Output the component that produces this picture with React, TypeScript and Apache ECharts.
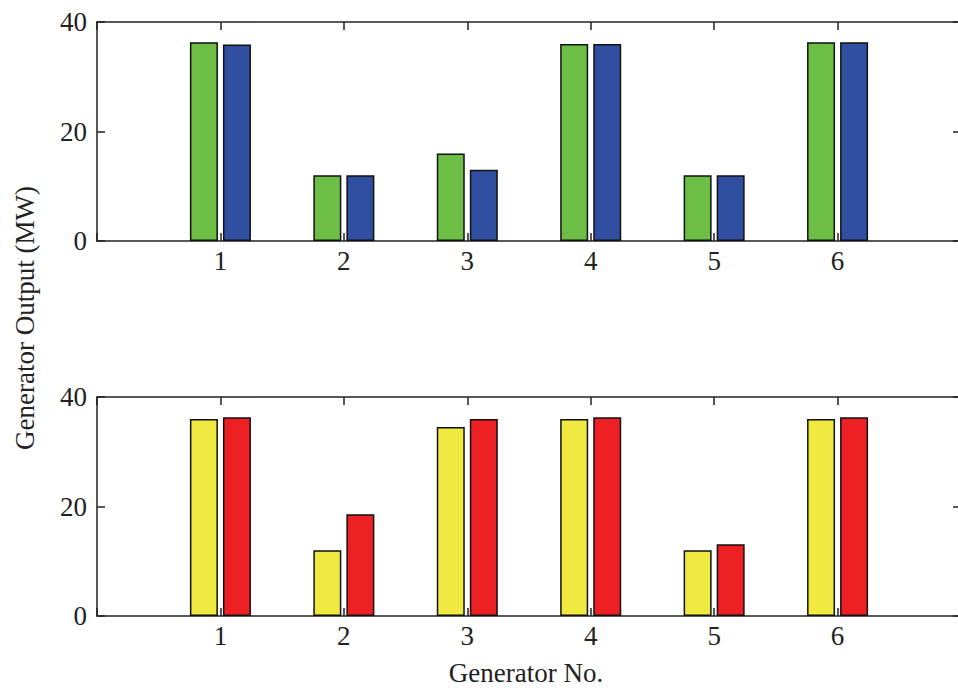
import React, { useEffect, useRef } from "react";
import * as echarts from "echarts";

const generators = [1, 2, 3, 4, 5, 6];
const topGreen = [36.3, 12, 16, 36, 12, 36.3];
const topBlue = [35.9, 12, 13, 36, 12, 36.3];
const bottomYellow = [36, 12, 34.5, 36, 12, 36];
const bottomRed = [36.3, 18.6, 36, 36.3, 13.1, 36.3];
const yTicks = [0, 20, 40];

const FONT = "'Liberation Serif', 'DejaVu Serif', serif";
const FS = 27;

export default function App() {
  const ref = useRef<HTMLDivElement>(null);
  useEffect(() => {
    if (!ref.current) return;
    const chart = echarts.init(ref.current, undefined, { renderer: "svg" });
    const lineStyle = { color: "#222", width: 1.5 };
    const xAxisBase = (gridIndex: number, position: "top" | "bottom", showLabel: boolean) => ({
      type: "value" as const,
      gridIndex,
      position,
      min: 0,
      max: 7,
      interval: 1,
      axisLine: { show: true, onZero: false, lineStyle },
      axisTick: { show: true, inside: true, length: 8, lineStyle },
      splitLine: { show: false },
      axisLabel: {
        show: showLabel,
        margin: 6,
        fontFamily: FONT,
        fontSize: FS,
        color: "#222",
        formatter: (v: number) => (generators.indexOf(v) >= 0 ? String(v) : ""),
      },
    });
    const yAxisBase = (gridIndex: number, position: "left" | "right", showLabel: boolean) => ({
      type: "value" as const,
      gridIndex,
      position,
      min: yTicks[0],
      max: yTicks[yTicks.length - 1],
      interval: 20,
      axisLine: { show: true, onZero: false, lineStyle },
      axisTick: { show: true, inside: true, length: 8, lineStyle },
      splitLine: { show: false },
      axisLabel: {
        show: showLabel,
        margin: 10,
        fontFamily: FONT,
        fontSize: FS,
        color: "#222",
      },
    });
    const barSeries = (name: string, values: number[], color: string, axisIdx: number) => ({
      type: "bar" as const,
      name,
      xAxisIndex: axisIdx,
      yAxisIndex: axisIdx,
      data: generators.map((g, i) => [g, values[i]]),
      barWidth: 28,
      barGap: "18%",
      itemStyle: { color, borderColor: "#111", borderWidth: 1.5 },
    });
    chart.setOption({
      animation: false,
      backgroundColor: "#fff",
      grid: [
        { left: 97, top: 22, width: 864, height: 219, outerBoundsMode: "none", containLabel: false },
        { left: 97, top: 397, width: 864, height: 219, outerBoundsMode: "none", containLabel: false },
      ],
      xAxis: [
        xAxisBase(0, "bottom", true),
        xAxisBase(1, "bottom", true),
        xAxisBase(0, "top", false),
        xAxisBase(1, "top", false),
      ],
      yAxis: [
        yAxisBase(0, "left", true),
        yAxisBase(1, "left", true),
        yAxisBase(0, "right", false),
        yAxisBase(1, "right", false),
      ],
      series: [
        barSeries("Top A", topGreen, "#6cbe45", 0),
        barSeries("Top B", topBlue, "#314fa1", 0),
        barSeries("Bottom A", bottomYellow, "#f0e940", 1),
        barSeries("Bottom B", bottomRed, "#ed2024", 1),
      ],
      graphic: [
        {
          type: "text",
          x: 25,
          y: 318,
          rotation: Math.PI / 2,
          style: {
            text: "Generator Output (MW)",
            font: `${FS}px ${FONT}`,
            fill: "#222",
            align: "center",
            verticalAlign: "middle",
          },
        },
        {
          type: "text",
          x: 526,
          y: 673,
          style: {
            text: "Generator No.",
            font: `${FS}px ${FONT}`,
            fill: "#222",
            align: "center",
            verticalAlign: "middle",
          },
        },
      ],
    });
    return () => chart.dispose();
  }, []);
  return (
    <div
      ref={ref}
      style={{ position: "absolute", left: 0, top: 0, width: 958, height: 692, overflow: "hidden" }}
    />
  );
}
